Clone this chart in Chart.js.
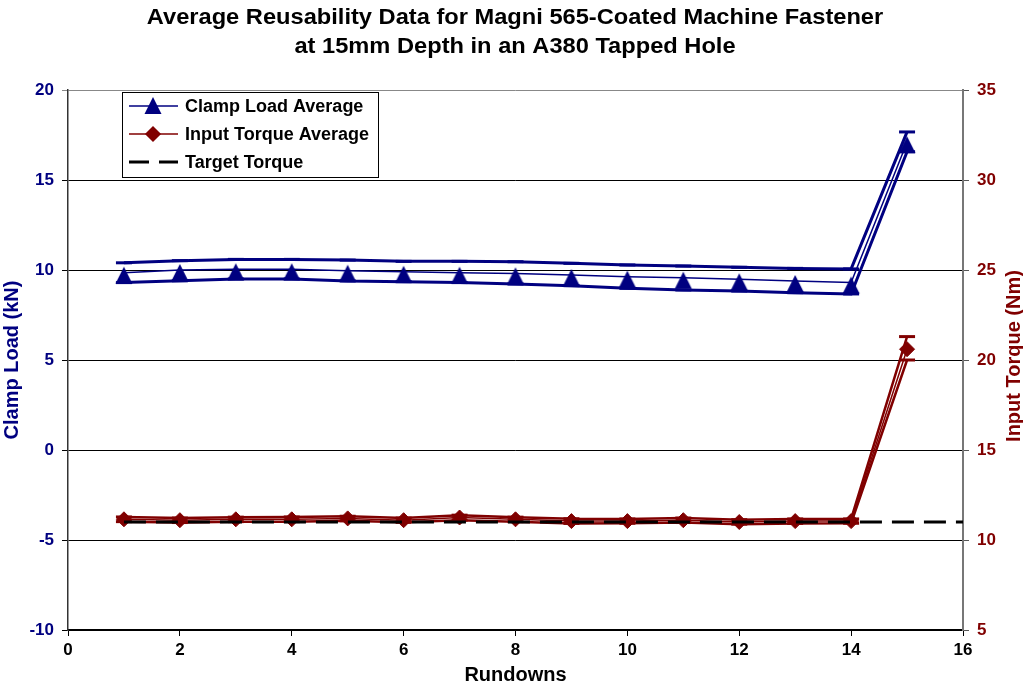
<!DOCTYPE html>
<html>
<head>
<meta charset="utf-8">
<script src="https://cdn.jsdelivr.net/npm/chart.js@4/dist/chart.umd.min.js"></script>
<style>
  html, body { margin: 0; padding: 0; background: #fff; }
  #wrap { width: 1023px; height: 689px; }
</style>
</head>
<body>
<div id="wrap"><canvas id="myChart" width="1023" height="689"></canvas></div>
<script>
// Datos
var rundowns = [1, 2, 3, 4, 5, 6, 7, 8, 9, 10, 11, 12, 13, 14, 15];
var clampAvg  = [9.85, 10.0, 10.04, 10.04, 9.96, 9.9, 9.85, 9.81, 9.72, 9.63, 9.57, 9.48, 9.39, 9.3, 17.1];
var clampHigh = [10.4, 10.52, 10.59, 10.59, 10.55, 10.48, 10.48, 10.46, 10.37, 10.28, 10.22, 10.15, 10.09, 10.06, 17.67];
var clampLow  = [9.3, 9.4, 9.5, 9.5, 9.39, 9.35, 9.3, 9.22, 9.13, 8.98, 8.89, 8.83, 8.74, 8.67, 16.57];
var torqueAvg  = [11.15, 11.1, 11.15, 11.15, 11.2, 11.1, 11.25, 11.15, 11.05, 11.05, 11.1, 11.0, 11.05, 11.05, 20.6];
var torqueHigh = [11.28, 11.22, 11.27, 11.28, 11.32, 11.22, 11.38, 11.27, 11.18, 11.17, 11.22, 11.13, 11.17, 11.17, 21.3];
var torqueLow  = [11.02, 10.97, 11.02, 11.02, 11.07, 10.98, 11.1, 11.02, 10.92, 10.93, 10.97, 10.88, 10.92, 10.93, 20.0];
var targetX = [1, 16];
var targetTorque = [11, 11];
var leftTicks = [-10, -5, 0, 5, 10, 15, 20];
var rightTicks = [5, 10, 15, 20, 25, 30, 35];

var NAVY = '#000080';
var DRED = '#800000';
var FONT = "'Liberation Sans', Arial, sans-serif";

function pts(xs, ys) {
  return xs.map(function (x, i) { return { x: x, y: ys[i] }; });
}

// triangulo estilo Excel (queda un poco por debajo del punto)
var tri = document.createElement('canvas');
tri.width = 24;
tri.height = 24;
(function () {
  var c = tri.getContext('2d');
  c.fillStyle = NAVY;
  c.beginPath();
  c.moveTo(12, 6);
  c.lineTo(20.5, 23);
  c.lineTo(3.5, 23);
  c.closePath();
  c.fill();
})();

// titulo, leyenda y titulo del eje derecho
var extras = {
  id: 'extras',
  afterDraw: function (chart) {
    var ctx = chart.ctx;
    ctx.save();
    ctx.fillStyle = '#000';
    ctx.font = 'bold 22px ' + FONT;
    ctx.textAlign = 'center';
    ctx.textBaseline = 'middle';
    ctx.save();
    ctx.translate(515, 0);
    ctx.scale(1.075, 1);
    ctx.fillText('Average Reusability Data for Magni 565-Coated Machine Fastener', 0, 18);
    ctx.fillText('at 15mm Depth in an A380 Tapped Hole', 0, 47);
    ctx.restore();

    // eje derecho
    ctx.save();
    ctx.translate(1014, 356);
    ctx.rotate(-Math.PI / 2);
    ctx.fillStyle = DRED;
    ctx.font = 'bold 20px ' + FONT;
    ctx.fillText('Input Torque (Nm)', 0, 0);
    ctx.restore();

    // leyenda
    ctx.fillStyle = '#fff';
    ctx.fillRect(122, 92, 256, 85);
    ctx.strokeStyle = '#000';
    ctx.lineWidth = 1;
    ctx.strokeRect(122.5, 92.5, 256, 85);
    var items = [
      { t: 'Clamp Load Average', c: NAVY, m: 'tri', dash: [] },
      { t: 'Input Torque Average', c: DRED, m: 'rectRot', dash: [] },
      { t: 'Target Torque', c: '#000', m: null, dash: [20, 10] }
    ];
    ctx.textAlign = 'left';
    ctx.font = 'bold 18px ' + FONT;
    items.forEach(function (it, i) {
      var y = 106 + i * 28;
      ctx.strokeStyle = it.c;
      ctx.lineWidth = it.m ? 1.5 : 3;
      ctx.setLineDash(it.dash);
      ctx.beginPath();
      ctx.moveTo(129, y);
      ctx.lineTo(178, y);
      ctx.stroke();
      ctx.setLineDash([]);
      if (it.m === 'tri') {
        ctx.drawImage(tri, 153 - 12, y - 15);
      } else if (it.m) {
        ctx.fillStyle = it.c;
        Chart.helpers.drawPoint(ctx, { pointStyle: it.m, radius: 7, rotation: 0, borderWidth: 1 }, 153, y);
        ctx.fill();
      }
      ctx.fillStyle = '#000';
      ctx.fillText(it.t, 185, y + 1);
    });
    ctx.restore();
  }
};

var ctx = document.getElementById('myChart').getContext('2d');
var myChart = new Chart(ctx, {
  type: 'line',
  data: {
    datasets: [
      {
        label: 'Target Torque',
        data: pts(targetX, targetTorque),
        yAxisID: 'y2',
        borderColor: '#000',
        borderWidth: 3,
        borderDash: [22, 10],
        pointRadius: 0
      },
      {
        label: 'Input Torque High',
        data: pts(rundowns, torqueHigh),
        yAxisID: 'y2',
        borderColor: DRED,
        borderWidth: 2.5,
        pointStyle: 'line',
        pointRadius: 8,
        pointBorderWidth: 3,
        pointBorderColor: DRED
      },
      {
        label: 'Input Torque Low',
        data: pts(rundowns, torqueLow),
        yAxisID: 'y2',
        borderColor: DRED,
        borderWidth: 2.5,
        pointStyle: 'line',
        pointRadius: 8,
        pointBorderWidth: 3,
        pointBorderColor: DRED
      },
      {
        label: 'Input Torque Average',
        data: pts(rundowns, torqueAvg),
        yAxisID: 'y2',
        borderColor: DRED,
        borderWidth: 1.5,
        pointStyle: 'rectRot',
        pointRadius: 7.5,
        pointBackgroundColor: DRED,
        pointBorderColor: DRED,
        pointBorderWidth: 1
      },
      {
        label: 'Clamp Load High',
        data: pts(rundowns, clampHigh),
        yAxisID: 'y',
        borderColor: NAVY,
        borderWidth: 3,
        pointStyle: 'line',
        pointRadius: 8,
        pointBorderWidth: 3,
        pointBorderColor: NAVY
      },
      {
        label: 'Clamp Load Low',
        data: pts(rundowns, clampLow),
        yAxisID: 'y',
        borderColor: NAVY,
        borderWidth: 3,
        pointStyle: 'line',
        pointRadius: 8,
        pointBorderWidth: 3,
        pointBorderColor: NAVY
      },
      {
        label: 'Clamp Load Average',
        data: pts(rundowns, clampAvg),
        yAxisID: 'y',
        borderColor: NAVY,
        borderWidth: 1.5,
        pointStyle: tri,
        pointRadius: 10
      }
    ]
  },
  options: {
    responsive: false,
    animation: false,
    layout: { padding: { top: 90, left: 0, right: 0, bottom: 0 } },
    plugins: {
      legend: { display: false },
      title: { display: false },
      tooltip: { enabled: false }
    },
    scales: {
      x: {
        type: 'linear',
        min: 0,
        max: 16,
        afterFit: function (s) { s.height = 59; },
        ticks: { stepSize: 2, color: '#000', font: { family: FONT, size: 17, weight: 'bold' }, padding: 4 },
        grid: { drawOnChartArea: false, color: '#000', tickLength: 6 },
        border: { color: '#000', width: 1.5 },
        title: { display: true, text: 'Rundowns', color: '#000', font: { family: FONT, size: 20, weight: 'bold' }, padding: { top: 0, bottom: 2 } }
      },
      y: {
        position: 'left',
        min: -10,
        max: 20,
        afterFit: function (s) { s.width = 68; },
        afterBuildTicks: function (s) { s.ticks = leftTicks.map(function (v) { return { value: v }; }); },
        ticks: { color: NAVY, font: { family: FONT, size: 17, weight: 'bold' }, padding: 8 },
        grid: {
          color: function (c) { return c.tick && c.tick.value === 20 ? '#888' : '#000'; },
          lineWidth: 1,
          tickLength: 6
        },
        border: { color: '#333', width: 1.5 },
        title: { display: true, text: 'Clamp Load (kN)', color: NAVY, font: { family: FONT, size: 20, weight: 'bold' }, padding: { top: 0, bottom: 4 } }
      },
      y2: {
        position: 'right',
        min: 5,
        max: 35,
        afterFit: function (s) { s.width = 60; },
        afterBuildTicks: function (s) { s.ticks = rightTicks.map(function (v) { return { value: v }; }); },
        ticks: { color: DRED, font: { family: FONT, size: 17, weight: 'bold' }, padding: 8 },
        grid: { drawOnChartArea: false, color: '#555', tickLength: 6 },
        border: { color: '#777', width: 2 }
      }
    }
  },
  plugins: [extras]
});
</script>
</body>
</html>
